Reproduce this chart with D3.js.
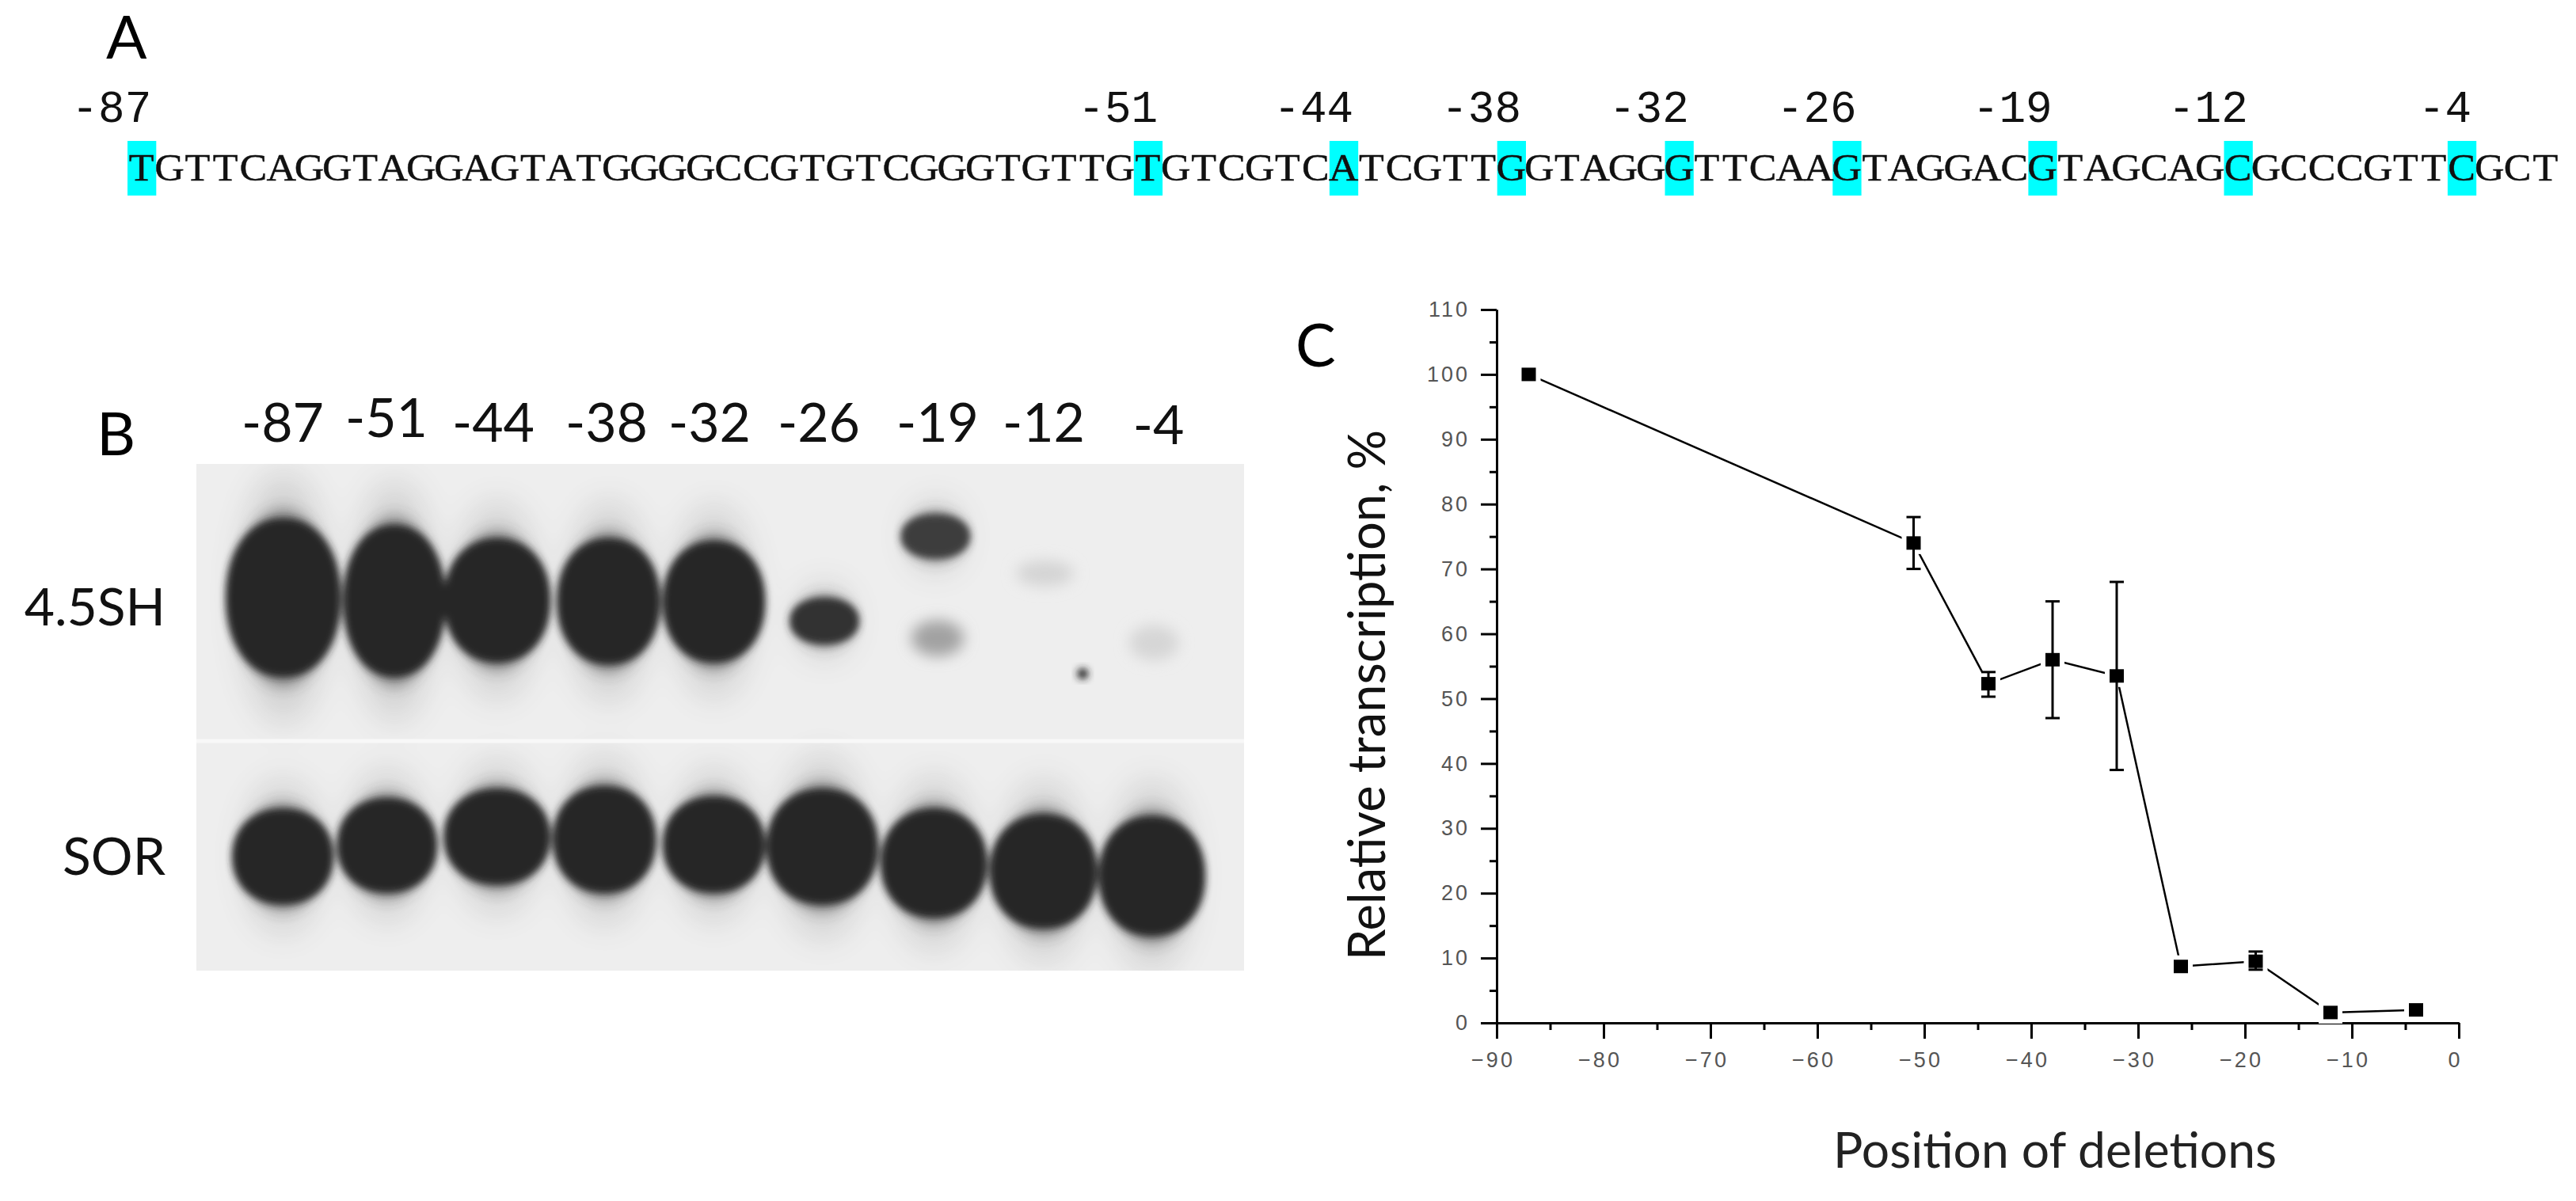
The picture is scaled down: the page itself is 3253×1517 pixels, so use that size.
<!DOCTYPE html>
<html><head><meta charset="utf-8">
<script src="https://cdnjs.cloudflare.com/ajax/libs/d3/7.8.5/d3.min.js"></script>
<style>html,body{margin:0;padding:0;background:#fff;overflow:hidden}svg{display:block}</style>
</head><body><svg id="c"></svg>
<script>
// Panel A
const sequence = "TGTTCAGGTAGGAGTATGGGGCCGTGTCGGGTGTTGTGTCGTCATCGTTGGTAGGGTTCAAGTAGGACGTAGCAGCGCCCGTTCGCT";
const deletionSites = [-87,-51,-44,-38,-32,-26,-19,-12,-4];
// Panel B
const laneLabels = ["-87","-51","-44","-38","-32","-26","-19","-12","-4"];
const rowLabels = ["4.5SH","SOR"];
// gel units, percent of blot width/height: [left,right,top,bottom,grey]
const bands4_5SH = [
 [2.9,13.7,11,41.8,"#282828"],[14.1,23.7,12.3,41.8,"#282828"],[23.7,33.7,14.9,39,"#282828"],
 [34.5,44.2,14.9,39.4,"#282828"],[44.6,54.2,15.4,39,"#282828"],[56.7,63.2,26.5,35.5,"#333"],
 [67.3,73.8,10,18.6,"#3c3c3c"]];
const faintBands = [[68.1,73.4,30.2,38.6,"#a2a2a2"],[78.1,83.9,18.6,24.6,"#d4d4d4"],[88.9,93.9,31.2,39.4,"#d6d6d6"]];
const bandsSOR = [
 [3.5,13,68.2,86.8,"#282828"],[13.5,22.9,66.1,84.5,"#282828"],[23.7,33.7,64.3,82.9,"#282828"],
 [34.1,43.8,63.8,84.5,"#282828"],[44.6,54.2,65.8,84.5,"#282828"],[54.5,65,64.3,86.8,"#282828"],
 [65.4,75.4,68.2,89.4,"#282828"],[75.8,85.9,69.3,91.5,"#282828"],[86.2,96.2,69.7,93,"#282828"]];
// Panel C
const positions = [-87,-51,-44,-38,-32,-26,-19,-12,-4];
const transcription = [100,74,52.3,56,53.5,8.7,9.5,1.6,2];
const errLow  = [100,70,50.3,47,39,8.7,8.2,1.2,2];
const errHigh = [100,78,54.1,65,68,8.7,11,2,2];
const xTicks = [-90,-80,-70,-60,-50,-40,-30,-20,-10,0];
const yTicks = [0,10,20,30,40,50,60,70,80,90,100,110];

const W=3253,H=1517;
const svg=d3.select("#c").attr("width",W).attr("height",H).attr("viewBox",[0,0,W,H]);
svg.append("rect").attr("width",W).attr("height",H).attr("fill","#fff");
const label="Lato, 'Open Sans', sans-serif", mono="'Liberation Mono', monospace", serif="'Liberation Serif', serif";
const defs=svg.append("defs");
[["b1",5],["b2",9],["b3",22]].forEach(([id,s])=>defs.append("filter").attr("id",id)
  .attr("x","-50%").attr("y","-50%").attr("width","200%").attr("height","200%")
  .append("feGaussianBlur").attr("stdDeviation",s));

function panelLetter(t,x,y){svg.append("text").text(t).attr("x",x).attr("y",y)
  .attr("font-family",label).attr("font-size",76).attr("fill","#000");}
panelLetter("A",134,74);panelLetter("B",122,575);panelLetter("C",1636,463);

// ---------- A: sequence
const sx=d3.scaleLinear().domain([-87,0]).range([161,161+87*35.3]);
const charW=sx(-86)-sx(-87);
const gA=svg.append("g");
gA.selectAll("rect").data(deletionSites).join("rect")
  .attr("x",d=>sx(d)).attr("y",178).attr("width",charW+1).attr("height",69).attr("fill","#00ffff");
gA.selectAll("text.s").data(sequence.split("")).join("text").attr("class","s")
  .text(d=>d).attr("text-anchor","middle")
  .attr("transform",(d,i)=>`translate(${sx(i-87)+charW/2},228) scale(1,0.93)`)
  .attr("font-family",serif).attr("font-size",52).attr("fill","#111").attr("stroke","#111").attr("stroke-width",0.5);
gA.selectAll("text.p").data(deletionSites).join("text").attr("class","p")
  .text(d=>String(d)).attr("text-anchor","end")
  .attr("transform",d=>`translate(${sx(d)+charW-5},154) scale(1,1.02)`)
  .attr("font-family",mono).attr("font-size",56).attr("fill","#111");

// ---------- B: blot
const bl={x:248,y:586,w:1323,h:640};
const gx=d3.scaleLinear().domain([0,100]).range([bl.x,bl.x+bl.w]);
const gy=d3.scaleLinear().domain([0,100]).range([bl.y,bl.y+bl.h]);
defs.append("clipPath").attr("id","cb").append("rect").attr("x",bl.x).attr("y",bl.y).attr("width",bl.w).attr("height",bl.h);
const gB=svg.append("g").attr("clip-path","url(#cb)");
gB.append("rect").attr("x",bl.x).attr("y",bl.y).attr("width",bl.w).attr("height",bl.h).attr("fill","#eeeeee");
const allBands=bands4_5SH.concat(bandsSOR);
const theta=d3.range(0,2*Math.PI,Math.PI/40);
const blob=(grow,growY,n)=>d=>{
  const cx=gx((d[0]+d[1])/2),cy=gy((d[2]+d[3])/2),rx=(gx(d[1])-gx(d[0]))/2*grow,ry=(gy(d[3])-gy(d[2]))/2*growY;
  const sp=(v)=>Math.sign(v)*Math.pow(Math.abs(v),2/n);
  return d3.line().curve(d3.curveLinearClosed)(theta.map(t=>[cx+rx*sp(Math.cos(t)),cy+ry*sp(Math.sin(t))]));
};
gB.append("g").attr("filter","url(#b3)").attr("opacity",.16).selectAll("path").data(allBands).join("path").attr("fill","#333").attr("d",blob(.75,1.6,2));
gB.append("g").attr("filter","url(#b2)").attr("opacity",.45).selectAll("path").data(allBands).join("path").attr("fill","#333").attr("d",blob(.85,1.14,2));
gB.append("g").attr("filter","url(#b1)").selectAll("path").data(allBands).join("path").attr("fill",d=>d[4]).attr("d",blob(1.02,1.02,2.15));
gB.append("g").attr("filter","url(#b2)").selectAll("path").data(faintBands).join("path").attr("fill",d=>d[4]).attr("d",blob(.95,.85,2));
gB.append("circle").attr("cx",gx(84.6)).attr("cy",gy(41.4)).attr("r",7).attr("fill","#222").attr("filter","url(#b1)");
gB.append("rect").attr("x",bl.x).attr("y",gy(54.3)).attr("width",bl.w).attr("height",5).attr("fill","#f8f8f8");
svg.append("g").selectAll("text").data(laneLabels).join("text").text(d=>d)
  .attr("x",(d,i)=>[357,488,623,766,896,1034,1184,1318,1463][i])
  .attr("y",(d,i)=>i==1?552:(i==8?561:558)).attr("text-anchor","middle")
  .attr("font-family",label).attr("font-size",68).attr("fill","#111");
svg.append("g").selectAll("text").data(rowLabels).join("text").text(d=>d)
  .attr("x",209).attr("y",(d,i)=>i?1105:790).attr("text-anchor","end")
  .attr("font-family",label).attr("font-size",66).attr("fill","#111");

// ---------- C: line chart
const x=d3.scaleLinear().domain([-90,0]).range([1890,3105]);
const y=d3.scaleLinear().domain([0,110]).range([1292,391]);
const gC=svg.append("g");
function axisStyle(g){g.selectAll(".domain").attr("stroke","#000").attr("stroke-width",3);g.selectAll(".tick line").attr("stroke","#000").attr("stroke-width",3);}
const minorX=d3.range(-85,0,10), minorY=d3.range(5,110,10);
gC.append("g").attr("transform","translate(0,1292)").call(d3.axisBottom(x).tickValues(minorX).tickSize(9).tickSizeOuter(0).tickFormat("")).call(axisStyle);
gC.append("g").attr("transform","translate(1890,0)").call(d3.axisLeft(y).tickValues(minorY).tickSize(9).tickSizeOuter(0).tickFormat("")).call(axisStyle);
const ax=gC.append("g").attr("transform","translate(0,1292)").call(d3.axisBottom(x).tickValues(xTicks).tickSize(20).tickSizeOuter(0).tickPadding(17)).call(axisStyle);
ax.selectAll("text").attr("font-family","'Liberation Sans',sans-serif").attr("font-size",27).attr("fill","#555").attr("letter-spacing",3).attr("dx",-5);
const ay=gC.append("g").attr("transform","translate(1890,0)").call(d3.axisLeft(y).tickValues(yTicks).tickSize(20).tickSizeOuter(0).tickPadding(14)).call(axisStyle);
ay.selectAll("text").attr("font-family","'Liberation Sans',sans-serif").attr("font-size",27).attr("fill","#555").attr("letter-spacing",3);

const pts=positions.map((p,i)=>({p,v:transcription[i],lo:errLow[i],hi:errHigh[i]}));
gC.append("path").datum(pts).attr("fill","none").attr("stroke","#000").attr("stroke-width",2.5)
  .attr("d",d3.line().x(d=>x(d.p)).y(d=>y(d.v)));
gC.append("g").selectAll("rect").data(pts).join("rect").attr("fill","#fff")
  .attr("x",d=>x(d.p)-15).attr("y",d=>y(d.v)-14).attr("width",30).attr("height",28);
const eb=pts.filter(d=>d.hi>d.lo);
const gE=gC.append("g").attr("stroke","#000").attr("stroke-width",3);
gE.selectAll("line.v").data(eb).join("line").attr("class","v").attr("x1",d=>x(d.p)).attr("x2",d=>x(d.p)).attr("y1",d=>y(d.lo)).attr("y2",d=>y(d.hi));
gE.selectAll("line.l").data(eb).join("line").attr("class","l").attr("x1",d=>x(d.p)-9).attr("x2",d=>x(d.p)+9).attr("y1",d=>y(d.lo)).attr("y2",d=>y(d.lo));
gE.selectAll("line.h").data(eb).join("line").attr("class","h").attr("x1",d=>x(d.p)-9).attr("x2",d=>x(d.p)+9).attr("y1",d=>y(d.hi)).attr("y2",d=>y(d.hi));
gC.append("g").selectAll("rect").data(pts).join("rect").attr("fill","#000")
  .attr("x",d=>x(d.p)-9).attr("y",d=>y(d.v)-8.5).attr("width",18).attr("height",17);

svg.append("text").text("Relative transcription, %").attr("text-anchor","middle")
  .attr("transform","translate(1749,878) rotate(-90)")
  .attr("textLength",670).attr("lengthAdjust","spacingAndGlyphs")
  .attr("font-family",label).attr("font-size",66).attr("fill","#111");
svg.append("text").text("Position of deletions").attr("text-anchor","middle")
  .attr("x",2595).attr("y",1475).attr("textLength",560).attr("lengthAdjust","spacingAndGlyphs")
  .attr("font-family",label).attr("font-size",62).attr("fill","#222");
</script></body></html>
